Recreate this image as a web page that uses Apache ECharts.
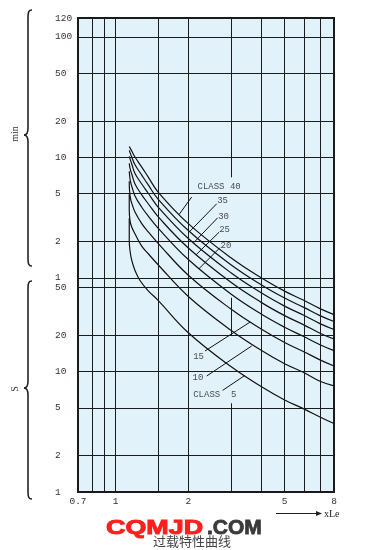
<!DOCTYPE html>
<html><head><meta charset="utf-8">
<script src="https://cdn.jsdelivr.net/npm/echarts@6/dist/echarts.min.js"></script>
<style>html,body{margin:0;padding:0;background:#fff}#c{width:369px;height:550px}</style>
</head><body><div id="c"></div>
<script>
// ---- data (x = multiple of Le, y = trip time in seconds) ----
const X_MIN = 0.7, X_MAX = 8;
const Y_MIN = 1, Y_MAX = 8600;           // top line of the chart is labelled "120" (min)
const classNames = ['40','35','30','25','20','15','10','5'];
const class40 = [[1.14,739],[1.17,670],[1.204,603],[1.284,498],[1.366,411],[1.5,309],[2,169],[3,88],[4,60],[5,46.5],[6,39],[7,33.3],[8,29.7]];
const class35 = [[1.14,685],[1.17,595],[1.204,521],[1.284,427],[1.366,354],[1.5,270],[2,148],[3,77],[4,52.5],[5,40.7],[6,34.1],[7,29.1],[8,26.0]];
const class30 = [[1.14,611],[1.17,520],[1.204,441],[1.284,360],[1.366,302],[1.5,232],[2,127],[3,66],[4,45],[5,34.9],[6,29.3],[7,25.0],[8,22.3]];
const class25 = [[1.14,534],[1.15,480],[1.17,430],[1.204,361],[1.284,293],[1.366,247],[1.5,193],[2,106],[3,55],[4,37.5],[5,29.1],[6,24.4],[7,20.8],[8,18.6]];
const class20 = [[1.14,459],[1.15,390],[1.17,340],[1.204,287],[1.284,231],[1.366,195],[1.5,155],[2,85],[3,44],[4,30],[5,23.3],[6,19.5],[7,16.7],[8,14.9]];
const class15 = [[1.14,379],[1.143,320],[1.155,270],[1.175,240],[1.204,211],[1.284,169],[1.366,144],[1.5,116],[2,63],[3,33],[4,22.5],[5,17.4],[6,14.6],[7,12.5],[8,11.1]];
const class10 = [[1.14,296],[1.14,220],[1.148,180],[1.165,160],[1.204,139],[1.284,110],[1.366,95],[1.5,77],[2,42],[3,22],[4,15],[5,11.6],[6,9.8],[7,8.3],[8,7.6]];
const class5  = [[1.14,187],[1.14,123],[1.148,101],[1.167,84],[1.204,69],[1.263,57],[1.363,47],[1.5,39],[2,21],[3,11],[4,7.5],[5,5.8],[6,4.9],[7,4.2],[8,3.7]];
const curves = [class40,class35,class30,class25,class20,class15,class10,class5];

const xGridValues = [0.8,0.9,1,1.5,2,4,5,6,7];
const xTickValues = [0.7,1,2,5,8];
const xTickLabels = ['0.7','1','2','5','8'];
const x3Segments = [[1,5.45],[20,41],[409,8600]];   // the 3×Le line is interrupted by the labels
const yTickValues = [8600,6000,3000,1200,600,300,120,60,50,20,10,5,2,1];
const yTickLabels = ['120','100','50','20','10','5','2','1','50','20','10','5','2','1'];

const curveLabelText = ['CLASS 40','35','30','25','20','15','10','CLASS  5'];
const curveLabelPos = [[2.172,346],[2.620,260],[2.645,195],[2.670,150.6],[2.703,110],[2.085,13.2],[2.071,8.9],[2.085,6.43]];
const leaderLines = [
  [[2.065,281],[1.835,202]],
  [[2.620,247],[2.031,146]],
  [[2.645,189],[2.111,118]],
  [[2.685,143.8],[2.151,93]],
  [[2.703,106.7],[2.207,71]],
  [[2.344,14.8],[3.596,25.7]],
  [[2.382,9.18],[3.656,16.3]],
  [[2.774,6.98],[3.43,9.30]]
];

// ---- chart ----
const chart = echarts.init(document.getElementById('c'));
const MONO = '"Liberation Mono", monospace';
const INK = '#1b1b1b';
const HIDDEN = {color:'rgba(0,0,0,0)', width:0};

const yPad = {0:[0,0,6,0], 7:[0,0,4,0], 8:[5,0,0,0]};
const yLines = yTickValues.map((v,i)=>({
  yAxis: v,
  lineStyle: (v===Y_MAX || v===Y_MIN) ? HIDDEN : {},
  label: {show:true, formatter: yTickLabels[i], padding: yPad[i] || 0}
}));
const xLines = xGridValues.map(v=>({xAxis:v, label:{show:false}}));
const xLabelLines = xTickValues.map((v,i)=>({xAxis:v, lineStyle:(v===X_MIN||v===X_MAX)?HIDDEN:{}, label:{show:true, formatter:xTickLabels[i]}}));
const x3Lines = x3Segments.map(s=>[{coord:[3,s[0]]},{coord:[3,s[1]]}]);

const series = [];
series.push({
  type:'line', data:[], silent:true, z:1,
  markLine:{
    silent:true, symbol:['none','none'], animation:false,
    lineStyle:{color:INK, width:1, type:'solid'},
    label:{position:'start', align:'left', distance:23, color:'#333', fontFamily:MONO, fontSize:9.5},
    data: yLines
  }
});
series.push({
  type:'line', data:[], silent:true, z:1,
  markLine:{
    silent:true, symbol:['none','none'], animation:false,
    lineStyle:{color:INK, width:1, type:'solid'},
    label:{position:'start', distance:4, color:'#333', fontFamily:MONO, fontSize:9.5},
    data: xLines.concat(xLabelLines).concat(x3Lines)
  }
});
curves.forEach((c,i)=>series.push({
  type:'line', name:'CLASS '+classNames[i], data:c, smooth:0.4, symbol:'none',
  lineStyle:{color:'#111', width:1.2}, z:3, silent:true, animation:false
}));
series.push({
  type:'line', data:[], silent:true, z:3,
  markLine:{silent:true, symbol:['none','none'], animation:false,
    lineStyle:{color:'#111', width:1, type:'solid'}, label:{show:false},
    data: leaderLines.map(l=>[{coord:l[0]},{coord:l[1]}])}
});
series.push({
  type:'scatter', silent:true, z:4, symbolSize:1, itemStyle:{color:'rgba(0,0,0,0)'},
  data: curveLabelPos.map((p,i)=>({value:p, label:{formatter:curveLabelText[i]}})),
  label:{show:true, position:'right', distance:0, color:'#222', fontFamily:MONO, fontSize:9}
});

function brace(y0, ym, y1){
  const st = {stroke:'#222', lineWidth:1.6, fill:null};
  return [
    {type:'bezierCurve', shape:{x1:32,y1:y0,cpx1:28.5,cpy1:y0,cpx2:28,cpy2:y0+2,x2:28,y2:y0+8}, style:st},
    {type:'line', shape:{x1:28,y1:y0+8,x2:28,y2:ym-7}, style:st},
    {type:'bezierCurve', shape:{x1:28,y1:ym-7,cpx1:28,cpy1:ym-2,cpx2:27,cpy2:ym,x2:24,y2:ym}, style:st},
    {type:'bezierCurve', shape:{x1:24,y1:ym,cpx1:27,cpy1:ym,cpx2:28,cpy2:ym+2,x2:28,y2:ym+7}, style:st},
    {type:'line', shape:{x1:28,y1:ym+7,x2:28,y2:y1-8}, style:st},
    {type:'bezierCurve', shape:{x1:28,y1:y1-8,cpx1:28,cpy1:y1-2,cpx2:28.5,cpy2:y1,x2:32,y2:y1}, style:st}
  ];
}

chart.setOption({
  animation:false,
  backgroundColor:'#ffffff',
  grid:{left:78, right:35, top:18, bottom:58, show:true, backgroundColor:'#e2f2fb', borderColor:INK, borderWidth:2},
  xAxis:{type:'log', logBase:10, min:X_MIN, max:X_MAX, axisLine:{show:false}, axisTick:{show:false}, axisLabel:{show:false}, splitLine:{show:false}, minorSplitLine:{show:false}},
  yAxis:{type:'log', logBase:10, min:Y_MIN, max:Y_MAX, axisLine:{show:false}, axisTick:{show:false}, axisLabel:{show:false}, splitLine:{show:false}, minorSplitLine:{show:false}},
  series: series,
  graphic: brace(10,135,266).concat(brace(281,388,499)).concat([
    {type:'text', x:15, y:134, rotation:Math.PI/2, style:{text:'min', font:'10px "Liberation Serif"', fill:'#333', align:'center', verticalAlign:'middle'}},
    {type:'text', x:15, y:389, rotation:Math.PI/2, style:{text:'S', font:'10px "Liberation Serif"', fill:'#333', align:'center', verticalAlign:'middle'}},
    {type:'line', shape:{x1:276, y1:513.5, x2:317, y2:513.5}, style:{stroke:'#222', lineWidth:1}},
    {type:'polygon', shape:{points:[[316,511],[322,513.5],[316,516]]}, style:{fill:'#222'}},
    {type:'text', x:324, y:514, style:{text:'xLe', font:'10px "Liberation Serif"', fill:'#222', verticalAlign:'middle'}},
    {type:'text', x:153, y:541, style:{text:'过载特性曲线', font:'13px "Noto Sans CJK SC"', fill:'#444', verticalAlign:'middle'}},
    {type:'text', x:106, y:528, scaleX:1.28, originX:0, originY:0, style:{text:'CQMJD', font:'bold 21px "Liberation Sans"', fill:'#ff1f1f', stroke:'#ff1f1f', lineWidth:1, verticalAlign:'middle'}},
    {type:'text', x:207, y:528, style:{text:'.COM', font:'bold 21px "Liberation Sans"', fill:'#3a3a3a', stroke:'#3a3a3a', lineWidth:0.8, verticalAlign:'middle'}}
  ])
});
</script>
</body></html>
